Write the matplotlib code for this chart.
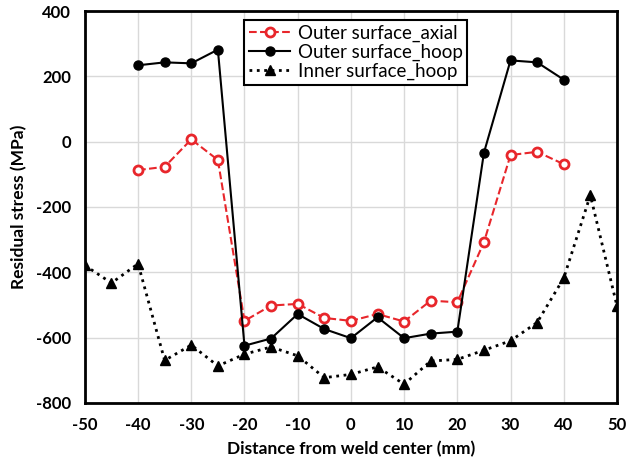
import matplotlib.pyplot as plt

plt.rcParams["font.family"] = ["Lato", "DejaVu Sans"]
plt.rcParams["axes.unicode_minus"] = False

# Distance from weld center (mm)
x_outer = [-40, -35, -30, -25, -20, -15, -10, -5, 0, 5, 10, 15, 20, 25, 30, 35, 40]
x_inner = [-50, -45, -40, -35, -30, -25, -20, -15, -10, -5, 0, 5, 10, 15, 20,
           25, 30, 35, 40, 45, 50]

# Residual stress (MPa)
outer_axial = [-87, -77, 7, -56, -549, -502, -497, -540, -549, -528, -551,
               -487, -492, -308, -41, -31, -69]
outer_hoop = [234, 243, 240, 282, -625, -603, -528, -574, -602, -538, -602,
              -588, -582, -34, 249, 243, 190]
inner_hoop = [-379, -433, -374, -670, -623, -687, -651, -629, -656, -723, -713,
              -690, -743, -672, -667, -639, -610, -554, -418, -164, -503]

fig = plt.figure(figsize=(6.38, 4.63), dpi=100)
ax = fig.add_axes([0.133, 0.130, 0.834, 0.846])

ax.plot(x_outer, outer_axial, "--", color="#e8262b", lw=1.5, marker="o",
        ms=6.5, mfc="white", mec="#e8262b", mew=2, label="Outer surface_axial")
ax.plot(x_outer, outer_hoop, "-", color="black", lw=1.5, marker="o",
        ms=6.5, label="Outer surface_hoop")
ax.plot(x_inner, inner_hoop, ":", color="black", lw=2, marker="^",
        ms=6.5, label="Inner surface_hoop")

ax.set_xlim(-50, 50)
ax.set_ylim(-800, 400)
ax.set_xticks(range(-50, 51, 10))
ax.set_yticks(range(-800, 401, 200))
ax.grid(color="#d9d9d9", lw=1)
ax.set_axisbelow(True)
for s in ax.spines.values():
    s.set_linewidth(2)
    s.set_color("black")
ax.tick_params(length=0, pad=10, labelsize=12)
for lbl in ax.get_xticklabels() + ax.get_yticklabels():
    lbl.set_fontweight("bold")

ax.set_xlabel("Distance from weld center (mm)", fontsize=12.5, fontweight="bold",
              labelpad=6)
ax.set_ylabel("Residual stress (MPa)", fontsize=12.5, fontweight="bold",
              labelpad=6)

leg = ax.legend(loc="upper left", bbox_to_anchor=(0.30, 0.978), fontsize=13.5,
                handlelength=2.2, handletextpad=0.4, borderpad=0.25,
                labelspacing=0.1, fancybox=False, framealpha=1,
                edgecolor="black", borderaxespad=0)
leg.get_frame().set_linewidth(1.5)

fig.savefig("out.png", dpi=100)
